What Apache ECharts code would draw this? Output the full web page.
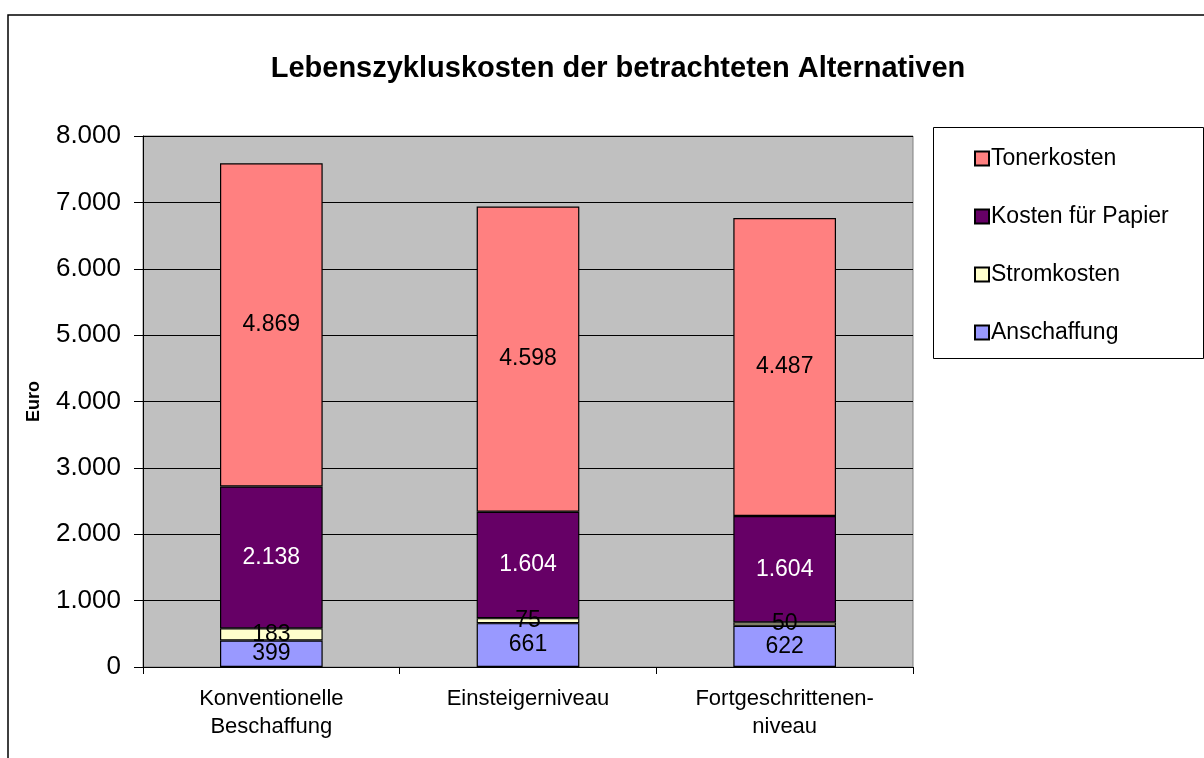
<!DOCTYPE html>
<html>
<head>
<meta charset="utf-8">
<script src="https://cdn.jsdelivr.net/npm/echarts@6/dist/echarts.min.js"></script>
<style>html,body{margin:0;padding:0;background:#fff}#c{width:1204px;height:758px}</style>
</head>
<body>
<div id="c"></div>
<script>
var titleText = 'Lebenszykluskosten der betrachteten Alternativen';
var categories = ['Konventionelle\nBeschaffung', 'Einsteigerniveau', 'Fortgeschrittenen-\nniveau'];
var anschaffung = [399, 661, 622];
var stromkosten = [183, 75, 50];
var papier = [2138, 1604, 1604];
var toner = [4869, 4598, 4487];
var yTicks = [0, 1000, 2000, 3000, 4000, 5000, 6000, 7000, 8000];

var FONT = '"Liberation Sans", Arial, sans-serif';
function de(v) { return String(v).replace(/\B(?=(\d{3})+(?!\d))/g, '.'); }

function mk(name, data, color, labelColor) {
  return {
    name: name, type: 'bar', stack: 'total', data: data, barWidth: '40%',
    itemStyle: { color: color, borderColor: '#000', borderWidth: 1.2 },
    label: { show: true, position: 'inside', color: labelColor, fontFamily: FONT, fontSize: 23,
      formatter: function (p) { return de(p.value); } },
    emphasis: { disabled: true }
  };
}

var chart = echarts.init(document.getElementById('c'), null, { renderer: 'canvas' });
chart.setOption({
  animation: false,
  backgroundColor: '#fff',
  textStyle: { fontFamily: FONT },
  title: {
    text: titleText, left: 613, top: 49, textAlign: 'center',
    textStyle: { fontFamily: FONT, fontSize: 29, fontWeight: 'bold', color: '#000' }
  },
  grid: {
    left: 143, right: 291, top: 136, bottom: 91,
    show: true, backgroundColor: '#C0C0C0', borderColor: '#808080', borderWidth: 1
  },
  legend: {
    orient: 'vertical', left: 969, top: 142,
    data: ['Tonerkosten', 'Kosten für Papier', 'Stromkosten', 'Anschaffung'],
    itemWidth: 14, itemHeight: 14, itemGap: 35,
    icon: 'rect',
    textStyle: { fontFamily: FONT, fontSize: 23, color: '#000', lineHeight: 23, padding: [0,0,0,-3] }
  },
  xAxis: {
    type: 'category', data: categories,
    axisLine: { lineStyle: { color: '#000', width: 1 } },
    axisTick: { show: true, length: 7, lineStyle: { color: '#000' } },
    axisLabel: { color: '#000', fontFamily: FONT, fontSize: 22, lineHeight: 28, margin: 18 },
    splitLine: { show: false }
  },
  yAxis: {
    type: 'value', min: 0, max: 8000, interval: 1000,
    name: 'Euro', nameLocation: 'middle', nameRotate: 90, nameGap: 100,
    nameTextStyle: { fontFamily: FONT, fontSize: 18, fontWeight: 'bold', color: '#000' },
    axisLine: { show: true, lineStyle: { color: '#000', width: 1 } },
    axisTick: { show: true, length: 9, lineStyle: { color: '#000' } },
    axisLabel: { color: '#000', fontFamily: FONT, fontSize: 26, margin: 22,
      formatter: function (v) { return de(v); } },
    splitLine: { show: true, lineStyle: { color: '#000', width: 1 } }
  },
  graphic: [
    { type: 'rect', shape: { x: 8, y: 15, width: 1300, height: 900 }, silent: true, z: 100,
      style: { fill: 'none', stroke: '#000', lineWidth: 1.5 } },
    { type: 'rect', shape: { x: 933.5, y: 127.5, width: 270, height: 231 }, silent: true, z: 100,
      style: { fill: 'none', stroke: '#000', lineWidth: 1 } }
  ],
  series: [
    mk('Anschaffung', anschaffung, '#9999FF', '#000'),
    mk('Stromkosten', stromkosten, '#FFFFCC', '#000'),
    mk('Kosten für Papier', papier, '#660066', '#fff'),
    mk('Tonerkosten', toner, '#FF8080', '#000')
  ]
});
</script>
</body>
</html>
